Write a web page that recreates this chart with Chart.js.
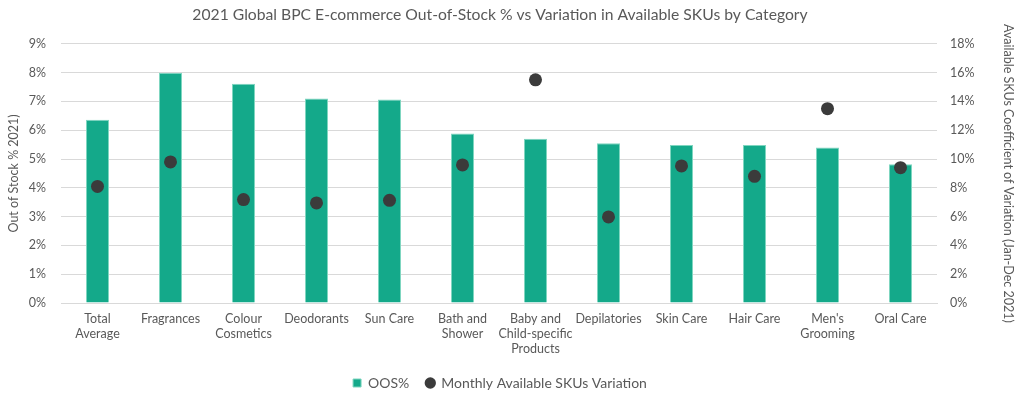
<!DOCTYPE html>
<html><head><meta charset="utf-8">
<script src="https://cdn.jsdelivr.net/npm/chart.js@4"></script>
<style>html,body{margin:0;padding:0;background:#fff;overflow:hidden;}#wrap{position:absolute;left:0;top:0;width:1024px;height:403px;}</style>
</head><body><div id="wrap"><canvas id="c"></canvas></div>
<script>
const categories = [
  ["Total","Average"], "Fragrances", ["Colour","Cosmetics"], "Deodorants", "Sun Care",
  ["Bath and","Shower"], ["Baby and","Child-specific","Products"], "Depilatories",
  "Skin Care", "Hair Care", ["Men's","Grooming"], "Oral Care"
];
const oosPct = [6.36, 8.00, 7.61, 7.10, 7.07, 5.89, 5.70, 5.55, 5.49, 5.49, 5.40, 4.82];
const skuVariation = [8.1, 9.8, 7.18, 6.95, 7.13, 9.59, 15.5, 5.98, 9.52, 8.8, 13.5, 9.4];
const leftTicks = [0,1,2,3,4,5,6,7,8,9];
const rightTicks = [0,2,4,6,8,10,12,14,16,18];

const FONT = "Lato, 'Open Sans', sans-serif";
const GREY = '#595959';
Chart.defaults.font.family = FONT;
Chart.defaults.color = GREY;

new Chart(document.getElementById('c'), {
  type: 'bar',
  data: {
    labels: categories,
    datasets: [
      {
        label: 'OOS%', data: oosPct, yAxisID: 'y',
        backgroundColor: '#14A98A', borderColor: '#7fd6c0', borderWidth: 1,
        barPercentage: 0.63, categoryPercentage: 0.5,
        pointStyle: 'rect', order: 2
      },
      {
        type: 'line', label: 'Monthly Available SKUs Variation', data: skuVariation, yAxisID: 'y1',
        showLine: false, pointRadius: 6.5, pointHoverRadius: 6.5,
        backgroundColor: '#3b3b3b', borderColor: '#3b3b3b', pointBorderWidth: 0,
        pointStyle: 'circle', order: 1
      }
    ]
  },
  options: {
    responsive: true, maintainAspectRatio: false, animation: false,
    layout: { padding: { left: 0, right: 24, top: 0, bottom: 4 } },
    plugins: {
      title: {
        display: true,
        text: '2021 Global BPC E-commerce Out-of-Stock % vs Variation in Available SKUs by Category',
        color: GREY, font: { size: 15.7, weight: 'normal', family: FONT },
        padding: { top: 6, bottom: 19 }
      },
      legend: {
        position: 'bottom',
        maxHeight: 40,
        labels: {
          usePointStyle: true, boxWidth: 8, boxHeight: 8, color: GREY, font: { size: 14 }, padding: 17,
          sort: (a, b) => a.datasetIndex - b.datasetIndex
        }
      },
      tooltip: { enabled: false }
    },
    scales: {
      x: {
        grid: { display: false },
        border: { color: '#d9d9d9' },
        ticks: { color: GREY, font: { size: 12.5 }, maxRotation: 0, minRotation: 0, autoSkip: false, padding: 0 },
        afterFit: (s) => { s.height = 56; }
      },
      y: {
        position: 'left', min: 0, max: 9,
        afterBuildTicks: (s) => { s.ticks = leftTicks.map(v => ({ value: v })); },
        ticks: { color: GREY, font: { size: 12.5 }, callback: (v) => v + '%', padding: 15 },
        grid: { color: '#d9d9d9', drawTicks: false },
        border: { display: false },
        title: { display: true, text: 'Out of Stock % 2021)', color: GREY, font: { size: 12.5 }, padding: { top: 6.5, bottom: 0 } },
        afterFit: (s) => { s.width = 61; }
      },
      y1: {
        position: 'right', min: 0, max: 18,
        afterBuildTicks: (s) => { s.ticks = rightTicks.map(v => ({ value: v })); },
        ticks: { color: GREY, font: { size: 12.5 }, callback: (v) => v + '%', padding: 13 },
        grid: { display: false, drawTicks: false },
        border: { display: false },
        title: { display: true, text: 'Available SKUs Coefficient of Variation (Jan-Dec 2021)', color: GREY, font: { size: 12.5 }, padding: { top: -15.5, bottom: 0 } },
        afterFit: (s) => { s.width = 63; }
      }
    }
  }
});
</script></body></html>
